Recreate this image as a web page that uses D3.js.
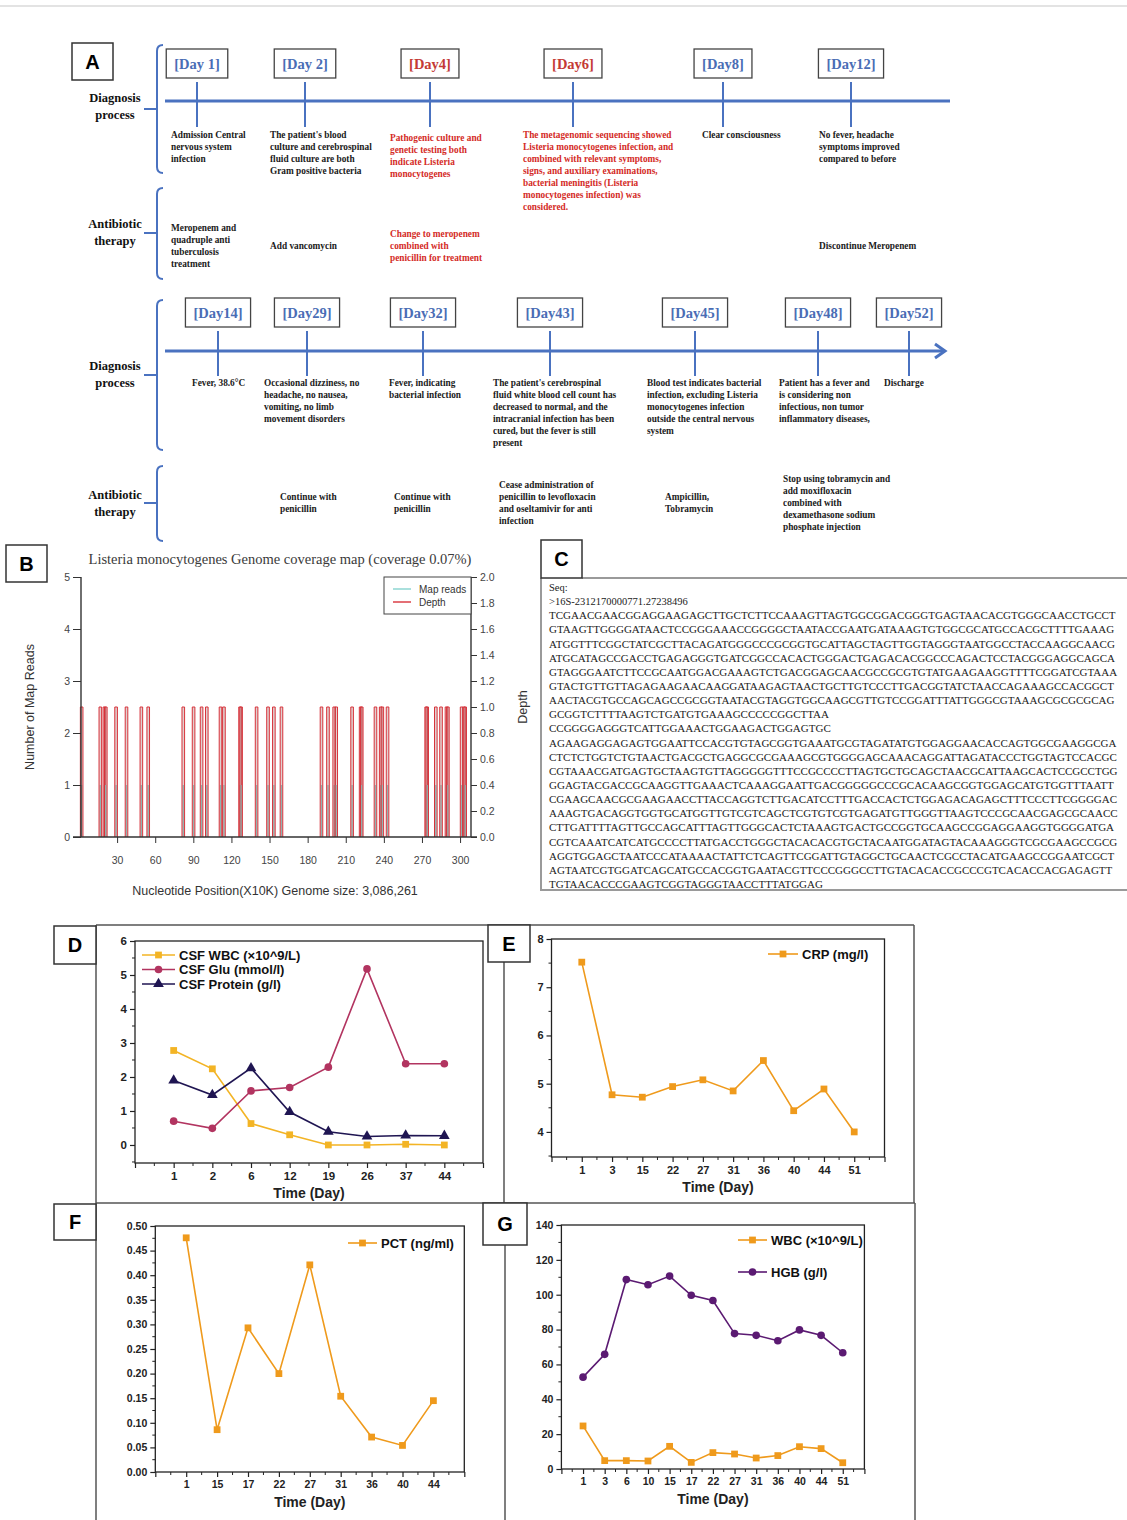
<!DOCTYPE html>
<html>
<head>
<meta charset="utf-8">
<script src="https://cdn.jsdelivr.net/npm/d3@7"></script>
<style>
  body { margin: 0; background: #fff; }
  svg text { font-family: "Liberation Sans", Arial, sans-serif; }
  .serif { font-family: "Liberation Serif", "Times New Roman", serif !important; }
</style>
</head>
<body>
<div id="fig"></div>
<script>
// ---------------- data ----------------
// panel A, first timeline row
const row1Days = ["[Day 1]", "[Day 2]", "[Day4]", "[Day6]", "[Day8]", "[Day12]"];
const row1Red = [false, false, true, true, false, false];
const row1Diag = [
  ["Admission Central", "nervous system", "infection"],
  ["The patient's blood", "culture and cerebrospinal", "fluid culture are both", "Gram positive bacteria"],
  ["Pathogenic culture and", "genetic testing both", "indicate Listeria", "monocytogenes"],
  ["The metagenomic sequencing showed", "Listeria monocytogenes infection, and", "combined with relevant symptoms,",
   "signs, and auxiliary examinations,", "bacterial meningitis (Listeria", "monocytogenes infection) was", "considered."],
  ["Clear consciousness"],
  ["No fever, headache", "symptoms improved", "compared to before"]
];
const row1Therapy = [
  ["Meropenem and", "quadruple anti", "tuberculosis", "treatment"],
  ["Add vancomycin"],
  ["Change to meropenem", "combined with", "penicillin for treatment"],
  [],
  [],
  ["Discontinue Meropenem"]
];
// panel A, second timeline row
const row2Days = ["[Day14]", "[Day29]", "[Day32]", "[Day43]", "[Day45]", "[Day48]", "[Day52]"];
const row2Diag = [
  ["Fever, 38.6°C"],
  ["Occasional dizziness, no", "headache, no nausea,", "vomiting, no limb", "movement disorders"],
  ["Fever, indicating", "bacterial infection"],
  ["The patient's cerebrospinal", "fluid white blood cell count has", "decreased to normal, and the",
   "intracranial infection has been", "cured, but the fever is still", "present"],
  ["Blood test indicates bacterial", "infection, excluding Listeria", "monocytogenes infection",
   "outside the central nervous", "system"],
  ["Patient has a fever and", "is considering non", "infectious, non tumor", "inflammatory diseases,"],
  ["Discharge"]
];
const row2Therapy = [
  [],
  ["Continue with", "penicillin"],
  ["Continue with", "penicillin"],
  ["Cease administration of", "penicillin to levofloxacin", "and oseltamivir for anti", "infection"],
  ["Ampicillin,", "Tobramycin"],
  ["Stop using tobramycin and", "add moxifloxacin", "combined with", "dexamethasone sodium", "phosphate injection"],
  []
];

// panel B: positions of mapped reads (x10K), depth and reads per hit
const genomeSize10K = 308.6;
const readPos = [2.1, 16.8, 20.0, 21.1, 29.2, 37.4, 49.1, 54.5, 82.1, 90.2, 96.5, 100.6, 111.4, 114.1,
  126.8, 127.6, 139.8, 148.8, 153.4, 159.4, 190.9, 196.0, 200.9, 202.5, 215.0, 221.7, 222.6, 233.4,
  237.5, 238.8, 242.9, 273.3, 274.1, 280.9, 285.0, 289.3, 290.4, 301.2, 303.1, 304.0];
const readCount = 1;
const readDepth = 1.0;

// panel C
const seqHeader = ["Seq:", ">16S-2312170000771.27238496"];
const seqLines = [
  "TCGAACGAACGGAGGAAGAGCTTGCTCTTCCAAAGTTAGTGGCGGACGGGTGAGTAACACGTGGGCAACCTGCCT",
  "GTAAGTTGGGGATAACTCCGGGAAACCGGGGCTAATACCGAATGATAAAGTGTGGCGCATGCCACGCTTTTGAAAG",
  "ATGGTTTCGGCTATCGCTTACAGATGGGCCCGCGGTGCATTAGCTAGTTGGTAGGGTAATGGCCTACCAAGGCAACG",
  "ATGCATAGCCGACCTGAGAGGGTGATCGGCCACACTGGGACTGAGACACGGCCCAGACTCCTACGGGAGGCAGCA",
  "GTAGGGAATCTTCCGCAATGGACGAAAGTCTGACGGAGCAACGCCGCGTGTATGAAGAAGGTTTTCGGATCGTAAA",
  "GTACTGTTGTTAGAGAAGAACAAGGATAAGAGTAACTGCTTGTCCCTTGACGGTATCTAACCAGAAAGCCACGGCT",
  "AACTACGTGCCAGCAGCCGCGGTAATACGTAGGTGGCAAGCGTTGTCCGGATTTATTGGGCGTAAAGCGCGCGCAG",
  "GCGGTCTTTTAAGTCTGATGTGAAAGCCCCCGGCTTAA",
  "CCGGGGAGGGTCATTGGAAACTGGAAGACTGGAGTGC",
  "AGAAGAGGAGAGTGGAATTCCACGTGTAGCGGTGAAATGCGTAGATATGTGGAGGAACACCAGTGGCGAAGGCGA",
  "CTCTCTGGTCTGTAACTGACGCTGAGGCGCGAAAGCGTGGGGAGCAAACAGGATTAGATACCCTGGTAGTCCACGC",
  "CGTAAACGATGAGTGCTAAGTGTTAGGGGGTTTCCGCCCCTTAGTGCTGCAGCTAACGCATTAAGCACTCCGCCTGG",
  "GGAGTACGACCGCAAGGTTGAAACTCAAAGGAATTGACGGGGGCCCGCACAAGCGGTGGAGCATGTGGTTTAATT",
  "CGAAGCAACGCGAAGAACCTTACCAGGTCTTGACATCCTTTGACCACTCTGGAGACAGAGCTTTCCCTTCGGGGAC",
  "AAAGTGACAGGTGGTGCATGGTTGTCGTCAGCTCGTGTCGTGAGATGTTGGGTTAAGTCCCGCAACGAGCGCAACC",
  "CTTGATTTTAGTTGCCAGCATTTAGTTGGGCACTCTAAAGTGACTGCCGGTGCAAGCCGGAGGAAGGTGGGGATGA",
  "CGTCAAATCATCATGCCCCTTATGACCTGGGCTACACACGTGCTACAATGGATAGTACAAAGGGTCGCGAAGCCGCG",
  "AGGTGGAGCTAATCCCATAAAACTATTCTCAGTTCGGATTGTAGGCTGCAACTCGCCTACATGAAGCCGGAATCGCT",
  "AGTAATCGTGGATCAGCATGCCACGGTGAATACGTTCCCGGGCCTTGTACACACCGCCCGTCACACCACGAGAGTT",
  "TGTAACACCCGAAGTCGGTAGGGTAACCTTTATGGAG"
];

// panel D: CSF
const csfDays = ["1", "2", "6", "12", "19", "26", "37", "44"];
const csfWbc = [2.78, 2.24, 0.63, 0.30, 0.0, 0.0, 0.02, 0.0];
const csfGlu = [0.70, 0.49, 1.59, 1.69, 2.29, 5.18, 2.39, 2.39];
const csfProtein = [1.90, 1.47, 2.26, 0.97, 0.39, 0.25, 0.28, 0.27];

// panel E: CRP
const crpDays = ["1", "3", "15", "22", "27", "31", "36", "40", "44", "51"];
const crp = [7.52, 4.77, 4.72, 4.94, 5.08, 4.85, 5.48, 4.44, 4.89, 4.0];

// panel F: PCT
const pctDays = ["1", "15", "17", "22", "27", "31", "36", "40", "44"];
const pct = [0.476, 0.086, 0.293, 0.200, 0.421, 0.154, 0.071, 0.054, 0.145];

// panel G: blood WBC and HGB
const bloodDays = ["1", "3", "6", "10", "15", "17", "22", "27", "31", "36", "40", "44", "51"];
const bloodWbc = [24.7, 4.8, 4.8, 4.6, 13.0, 3.8, 9.4, 8.6, 6.3, 7.7, 12.8, 11.7, 3.6];
const hgb = [52.7, 65.8, 108.7, 105.7, 110.7, 99.7, 96.7, 77.7, 76.7, 73.6, 79.8, 76.7, 66.7];

// ---------------- drawing ----------------
const W = 1127, H = 1520;
const svg = d3.select("#fig").append("svg").attr("width", W).attr("height", H);
svg.append("rect").attr("width", W).attr("height", H).attr("fill", "#fff");
svg.append("line").attr("x1", 0).attr("x2", W).attr("y1", 6).attr("y2", 6)
  .attr("stroke", "#c8c8c8").attr("stroke-width", 1.2);

const blue = "#4a72c0", dayBlue = "#4a6db5", dayRed = "#c43a35", txtRed = "#d42b26";

function labelBox(x, y, w, h, t) {
  svg.append("rect").attr("x", x).attr("y", y).attr("width", w).attr("height", h)
    .attr("fill", "#fff").attr("stroke", "#333").attr("stroke-width", 1.5);
  svg.append("text").attr("x", x + w / 2).attr("y", y + h / 2 + 7).attr("text-anchor", "middle")
    .attr("font-size", 20).attr("font-weight", "bold").text(t);
}

function multiline(x, y, lines, color, size, lh) {
  const t = svg.append("text").attr("class", "serif").attr("x", x).attr("y", y)
    .attr("font-size", size).attr("font-weight", "bold").attr("fill", color);
  lines.forEach((l, i) => t.append("tspan").attr("x", x).attr("y", y + i * lh).text(l));
  return t;
}

function bracket(x, top, bottom, mid) {
  svg.append("path")
    .attr("d", `M${x + 6},${top} Q${x},${top} ${x},${top + 6} L${x},${bottom - 6} Q${x},${bottom} ${x + 6},${bottom} M${x},${mid} L${x - 13},${mid}`)
    .attr("fill", "none").attr("stroke", blue).attr("stroke-width", 2);
}

function sideLabel(y, a, b) {
  multiline(115, y, [a, b], "#111", 12.5, 17).attr("text-anchor", "middle");
}

function timelineRow(o) {
  svg.append("line").attr("x1", 165).attr("x2", o.lineEnd).attr("y1", o.lineY).attr("y2", o.lineY)
    .attr("stroke", blue).attr("stroke-width", 3);
  if (o.arrow) {
    svg.append("path")
      .attr("d", `M${o.lineEnd - 9},${o.lineY - 7} L${o.lineEnd + 1},${o.lineY} L${o.lineEnd - 9},${o.lineY + 7}`)
      .attr("fill", "none").attr("stroke", blue).attr("stroke-width", 3);
  }
  o.days.forEach((d, i) => {
    const cx = o.tickX[i];
    svg.append("line").attr("x1", cx).attr("x2", cx).attr("y1", o.boxTop + 33).attr("y2", o.tickBottom)
      .attr("stroke", blue).attr("stroke-width", 2);
    const t = svg.append("text").attr("class", "serif").attr("x", cx).attr("y", o.boxTop + 20)
      .attr("text-anchor", "middle").attr("font-size", 14.5).attr("font-weight", "bold")
      .attr("fill", o.red && o.red[i] ? dayRed : dayBlue).text(d);
    const tw = t.node().getComputedTextLength();
    svg.insert("rect", "text").attr("x", cx - tw / 2 - 8).attr("y", o.boxTop)
      .attr("width", tw + 16).attr("height", 29).attr("fill", "#fff")
      .attr("stroke", "#444").attr("stroke-width", 1.3);
    const col = o.red && o.red[i] ? txtRed : "#1a1a1a";
    multiline(o.diagX[i], o.diagY + (o.diagShift ? o.diagShift[i] : 0), o.diag[i], col, 9.3, 12);
    const th = o.therapy[i];
    if (th.length) multiline(o.therX[i], o.therCenter - (th.length - 1) * 6 + 3.5, th, col, 9.3, 12);
  });
}

// ---- panel A ----
labelBox(72, 43, 41, 37, "A");
bracket(157, 45, 173, 109);
bracket(157, 188, 279, 233);
bracket(157, 300, 450, 375);
bracket(157, 466, 541, 503);
sideLabel(102, "Diagnosis", "process");
sideLabel(228, "Antibiotic", "therapy");
sideLabel(370, "Diagnosis", "process");
sideLabel(499, "Antibiotic", "therapy");

timelineRow({
  days: row1Days, red: row1Red, diag: row1Diag, therapy: row1Therapy,
  tickX: [197, 305, 430, 573, 723, 851],
  diagX: [171, 270, 390, 523, 702, 819],
  therX: [171, 270, 390, 523, 702, 819],
  diagShift: [0, 0, 3, 0, 0, 0],
  lineY: 101, lineEnd: 950, boxTop: 49, tickBottom: 127,
  diagY: 137.5, therCenter: 245
});
timelineRow({
  days: row2Days, diag: row2Diag, therapy: row2Therapy, arrow: true,
  tickX: [218, 307, 423, 550, 695, 818, 909],
  diagX: [192, 264, 389, 493, 647, 779, 884],
  therX: [0, 280, 394, 499, 665, 783, 0],
  lineY: 351, lineEnd: 944, boxTop: 298, tickBottom: 376,
  diagY: 385.5, therCenter: 502
});

// ---- panel B: genome coverage ----
(function () {
  const L = 81, R = 471, T = 577, B = 837;
  const x = d3.scaleLinear().domain([0, genomeSize10K]).range([79, R]);
  const yL = d3.scaleLinear().domain([0, 5]).range([B, T]);
  const yR = d3.scaleLinear().domain([0, 2]).range([B, T]);
  const g = svg.append("g");
  const tickCol = "#333";

  g.append("text").attr("class", "serif").attr("x", 280).attr("y", 564).attr("text-anchor", "middle")
    .attr("font-size", 14.5).attr("fill", "#3a3a3a")
    .text("Listeria monocytogenes Genome coverage map (coverage 0.07%)");

  // spikes
  readPos.forEach(p => {
    const cx = x(p);
    g.append("line").attr("x1", cx).attr("x2", cx).attr("y1", B).attr("y2", yL(readCount))
      .attr("stroke", "#86d3cf").attr("stroke-width", 1.4);
    g.append("path")
      .attr("d", `M${cx - 1.3},${B} L${cx - 1.3},${yR(readDepth)} L${cx + 1.3},${yR(readDepth)} L${cx + 1.3},${B}`)
      .attr("fill", "rgba(170,120,120,0.35)").attr("stroke", "#d8323a").attr("stroke-width", 1);
  });

  // axes
  g.append("line").attr("x1", L).attr("x2", L).attr("y1", T).attr("y2", B).attr("stroke", tickCol).attr("stroke-width", 1.4);
  g.append("line").attr("x1", R).attr("x2", R).attr("y1", T).attr("y2", B).attr("stroke", tickCol).attr("stroke-width", 1.4);
  g.append("line").attr("x1", 73).attr("x2", R + 6).attr("y1", B).attr("y2", B).attr("stroke", tickCol).attr("stroke-width", 1.4);

  const ax = g.append("g").attr("transform", `translate(${L},0)`)
    .call(d3.axisLeft(yL).tickValues([0, 1, 2, 3, 4, 5]).tickSize(8).tickFormat(d3.format("d")));
  ax.select(".domain").remove();
  const ar = g.append("g").attr("transform", `translate(${R},0)`)
    .call(d3.axisRight(yR).tickValues(d3.range(0, 2.01, 0.2)).tickSize(6).tickFormat(d3.format(".1f")));
  ar.select(".domain").remove();
  const ab = g.append("g").attr("transform", `translate(0,${B})`)
    .call(d3.axisBottom(x).tickValues(d3.range(30, 301, 30)).tickSize(6).tickPadding(14));
  ab.select(".domain").remove();
  g.selectAll(".tick text").attr("font-size", 10.5).attr("fill", "#444").attr("font-family", "Liberation Sans, Arial, sans-serif");
  g.selectAll(".tick line").attr("stroke", tickCol);

  g.append("text").attr("transform", "translate(34,707) rotate(-90)").attr("text-anchor", "middle")
    .attr("font-size", 12.5).attr("fill", "#333").text("Number of Map Reads");
  g.append("text").attr("transform", "translate(527,707) rotate(-90)").attr("text-anchor", "middle")
    .attr("font-size", 12.5).attr("fill", "#333").text("Depth");
  g.append("text").attr("x", 275).attr("y", 895).attr("text-anchor", "middle")
    .attr("font-size", 12.5).attr("fill", "#333").text("Nucleotide Position(X10K) Genome size: 3,086,261");

  // legend
  g.append("rect").attr("x", 384).attr("y", T).attr("width", R - 384).attr("height", 37)
    .attr("fill", "#fff").attr("stroke", "#444").attr("stroke-width", 1);
  [["Map reads", "#86d3cf", 589], ["Depth", "#d8323a", 602]].forEach(([t, c, yy]) => {
    g.append("line").attr("x1", 393).attr("x2", 411).attr("y1", yy).attr("y2", yy).attr("stroke", c).attr("stroke-width", 1.4);
    g.append("text").attr("x", 419).attr("y", yy + 3.5).attr("font-size", 10).attr("fill", "#333").text(t);
  });
  labelBox(6, 545, 41, 37, "B");
})();

// ---- panel C: sequence ----
(function () {
  svg.append("path").attr("d", "M582,578 L1127,578 M541,578 L541,890 L1127,890")
    .attr("fill", "none").attr("stroke", "#9a9a9a").attr("stroke-width", 2);
  labelBox(541, 540, 41, 38, "C");
  const all = seqHeader.concat(seqLines);
  const t = svg.append("text").attr("class", "serif").attr("fill", "#222");
  all.forEach((l, i) => t.append("tspan").attr("x", 549).attr("y", 591 + i * 14.14)
    .attr("font-size", i < 2 ? 10.5 : 11).text(l));
})();

// ---- panels D-G frame lines ----
svg.append("path")
  .attr("d", "M96,925 L96,1520 M96,925 L914,925 M504,962 L504,1203 M914,925 L914,1203 M96,1203 L915,1203 M505,1245 L505,1520 M915,1203 L915,1520")
  .attr("fill", "none").attr("stroke", "#555").attr("stroke-width", 1.5);

function lineChart(o) {
  const g = svg.append("g");
  const n = o.cats.length;
  const x = d3.scaleLinear().domain([-1, n]).range([o.left, o.right]);
  const y = d3.scaleLinear().domain(o.yDomain).range([o.bottom, o.top]);

  g.append("rect").attr("x", o.left).attr("y", o.top).attr("width", o.right - o.left)
    .attr("height", o.bottom - o.top).attr("fill", "none").attr("stroke", "#222").attr("stroke-width", 1.3);

  // x ticks
  const xa = g.append("g").attr("transform", `translate(0,${o.bottom})`)
    .call(d3.axisBottom(x).tickValues(d3.range(-1, n + 1)).tickSize(5).tickPadding(4)
      .tickFormat(i => (i >= 0 && i < n) ? o.cats[i] : ""));
  xa.select(".domain").remove();
  d3.range(-0.5, n, 1).forEach(v => g.append("line").attr("x1", x(v)).attr("x2", x(v))
    .attr("y1", o.bottom).attr("y2", o.bottom + 3).attr("stroke", "#222"));

  // y ticks
  const ya = g.append("g").attr("transform", `translate(${o.left},0)`)
    .call(d3.axisLeft(y).tickValues(o.yTicks).tickSize(5).tickPadding(3).tickFormat(o.yFmt));
  ya.select(".domain").remove();
  o.yMinor.forEach(v => g.append("line").attr("x1", o.left - 3).attr("x2", o.left)
    .attr("y1", y(v)).attr("y2", y(v)).attr("stroke", "#222"));
  g.selectAll(".tick line").attr("stroke", "#222").attr("stroke-width", 1.2);
  g.selectAll(".tick text").attr("font-size", o.tickSize || 11).attr("font-weight", "bold")
    .attr("fill", "#222").attr("font-family", "Liberation Sans, Arial, sans-serif");

  g.append("text").attr("x", (x(0) + x(n - 1)) / 2).attr("y", o.bottom + 35).attr("text-anchor", "middle")
    .attr("font-size", 14).attr("font-weight", "bold").attr("fill", "#222").text("Time (Day)");

  const line = d3.line().x((d, i) => x(i)).y(d => y(d));
  o.series.forEach(s => {
    g.append("path").datum(s.values).attr("d", line).attr("fill", "none")
      .attr("stroke", s.color).attr("stroke-width", 1.6);
    g.selectAll(null).data(s.values).join("path")
      .attr("transform", (d, i) => `translate(${x(i)},${y(d)})`)
      .attr("d", d3.symbol().type(s.symbol).size(s.symbol === d3.symbolTriangle ? 50 : 46))
      .attr("fill", s.color);
  });

  o.series.forEach((s, k) => {
    const ly = o.legend.y + k * o.legend.dy;
    const lx = o.legend.x;
    g.append("line").attr("x1", lx).attr("x2", lx + o.legend.len).attr("y1", ly).attr("y2", ly)
      .attr("stroke", s.color).attr("stroke-width", 1.6);
    g.append("path").attr("transform", `translate(${lx + o.legend.len / 2},${ly})`)
      .attr("d", d3.symbol().type(s.symbol).size(s.symbol === d3.symbolTriangle ? 50 : 46)).attr("fill", s.color);
    g.append("text").attr("x", lx + o.legend.len + 4).attr("y", ly + 4.5).attr("font-size", 13)
      .attr("font-weight", "bold").attr("fill", "#111").text(s.name);
  });
}

// D
lineChart({
  cats: csfDays, left: 135, right: 483, top: 941, bottom: 1163,
  yDomain: [-0.53, 6], yTicks: d3.range(0, 7), yMinor: d3.range(-0.5, 6, 1), yFmt: d3.format("d"),
  tickSize: 11.5,
  series: [
    { name: "CSF WBC (×10^9/L)", values: csfWbc, color: "#f3b425", symbol: d3.symbolSquare },
    { name: "CSF Glu (mmol/l)", values: csfGlu, color: "#b23460", symbol: d3.symbolCircle },
    { name: "CSF Protein (g/l)", values: csfProtein, color: "#1f1552", symbol: d3.symbolTriangle }
  ],
  legend: { x: 142, y: 955, dy: 14.5, len: 33 }
});
// E
lineChart({
  cats: crpDays, left: 551.5, right: 884.5, top: 939, bottom: 1157,
  yDomain: [3.48, 8], yTicks: d3.range(4, 9), yMinor: d3.range(3.5, 8, 1), yFmt: d3.format("d"),
  series: [{ name: "CRP (mg/l)", values: crp, color: "#ef9a1c", symbol: d3.symbolSquare }],
  legend: { x: 768, y: 954, dy: 0, len: 30 }
});
// F
lineChart({
  cats: pctDays, left: 155.3, right: 464.3, top: 1226, bottom: 1472,
  yDomain: [0, 0.5], yTicks: d3.range(0, 0.501, 0.05), yMinor: d3.range(0.025, 0.5, 0.05), yFmt: d3.format(".2f"),
  tickSize: 10.5,
  series: [{ name: "PCT (ng/ml)", values: pct, color: "#ef9a1c", symbol: d3.symbolSquare }],
  legend: { x: 348, y: 1243, dy: 0, len: 29 }
});
// G
lineChart({
  cats: bloodDays, left: 561.4, right: 864.4, top: 1225, bottom: 1469,
  yDomain: [0, 140], yTicks: d3.range(0, 141, 20), yMinor: d3.range(10, 140, 20), yFmt: d3.format("d"),
  tickSize: 10.5,
  series: [
    { name: "WBC (×10^9/L)", values: bloodWbc, color: "#ef9a1c", symbol: d3.symbolSquare },
    { name: "HGB (g/l)", values: hgb, color: "#5b1a72", symbol: d3.symbolCircle }
  ],
  legend: { x: 738, y: 1240, dy: 32, len: 29 }
});

labelBox(54, 926, 42, 38, "D");
labelBox(488, 925, 42, 37, "E");
labelBox(54, 1204, 42, 36, "F");
labelBox(483, 1203, 44, 42, "G");
</script>
</body>
</html>
